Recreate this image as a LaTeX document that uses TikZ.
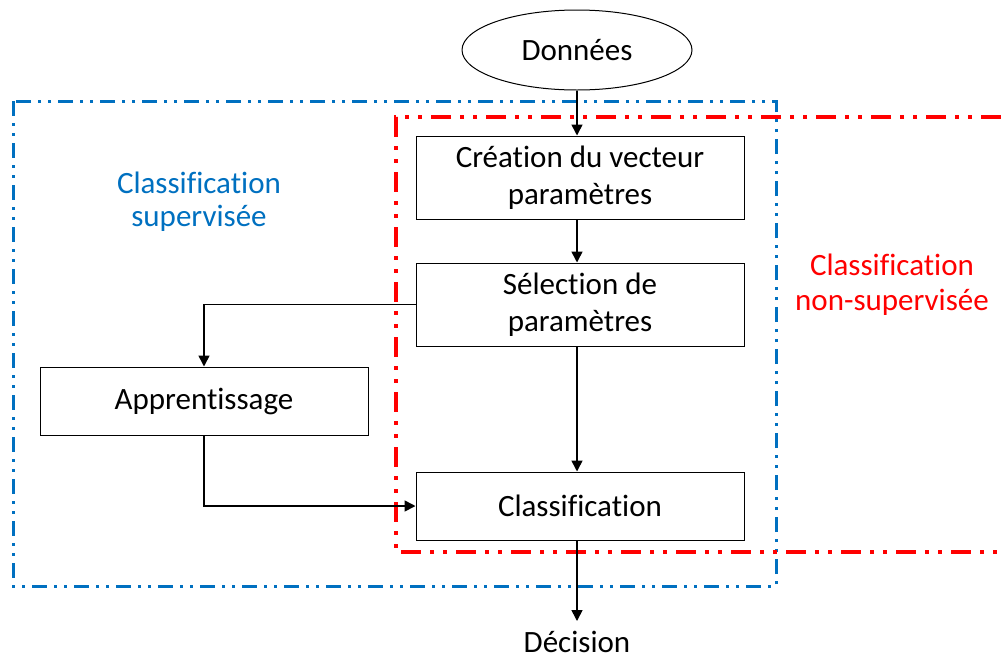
\documentclass[tikz,border=0pt]{standalone}
\usepackage{fontspec}
\setmainfont[Ligatures=NoCommon]{Carlito}
\usetikzlibrary{shapes.geometric,arrows.meta}
\definecolor{bluegrp}{RGB}{0,112,192}
\definecolor{redgrp}{RGB}{255,0,0}
\tikzset{
  blk/.style={draw=black, line width=1pt, minimum width=328pt, inner sep=0pt, align=center, font=\fontsize{31}{37}\selectfont},
  arr/.style={line width=1.6pt, -{Triangle[length=11pt,width=11pt]}},
  bluedash/.style={draw=bluegrp, line width=3pt, dash pattern=on 15pt off 7pt on 3pt off 7pt on 3pt off 7pt},
  reddash/.style={draw=redgrp, line width=4pt, dash pattern=on 20pt off 9pt on 4pt off 9pt on 4pt off 9pt},
  lbl/.style={align=center, font=\fontsize{31}{35}\selectfont}
}
\begin{document}
\begin{tikzpicture}[x=1pt,y=-1pt]
\useasboundingbox (0,0) rectangle (1001,657);
% group frames
\draw[bluedash] (13,101) rectangle (776,586);
\draw[reddash] (1001,117) -- (396,117) -- (396,552) -- (1001,552);
% nodes
\node[ellipse, draw=black, line width=1pt, minimum width=230pt, minimum height=80pt, inner sep=0pt, font=\fontsize{31}{37}\selectfont] (don) at (577,50) {Données};
\node[blk, minimum height=83pt, fill=white] (crea) at (580,177.5) {Création du vecteur\\paramètres};
\node[blk, minimum height=83pt, fill=white] (sel) at (580,304.5) {Sélection de\\paramètres};
\node[blk, minimum height=68pt, fill=white] (app) at (204,401) {Apprentissage};
\node[blk, minimum height=68pt, fill=white] (cls) at (580,506) {Classification};
\node[anchor=base, inner sep=0pt, font=\fontsize{31}{35}\selectfont] (dec) at (577,652) {Décision};
\node[lbl, text=bluegrp, font=\fontsize{31}{33}\selectfont] (sup) at (199,202) {Classification\\supervisée};
\node[lbl, text=redgrp] (nsup) at (892,285) {Classification\\non-supervisée};
\coordinate (decend) at (577,621);
% connectors
\draw[arr] (don.south -| 577,0) -- (crea.north -| 577,0);
\draw[arr] (crea.south -| 577,0) -- (sel.north -| 577,0);
\draw[arr] (sel.south -| 577,0) -- (cls.north -| 577,0);
\draw[arr] (sel.west) -| (app.north);
\draw[arr] (app.south) |- (cls.west);
\draw[arr] (cls.south -| 577,0) -- (decend);
\end{tikzpicture}
\end{document}
